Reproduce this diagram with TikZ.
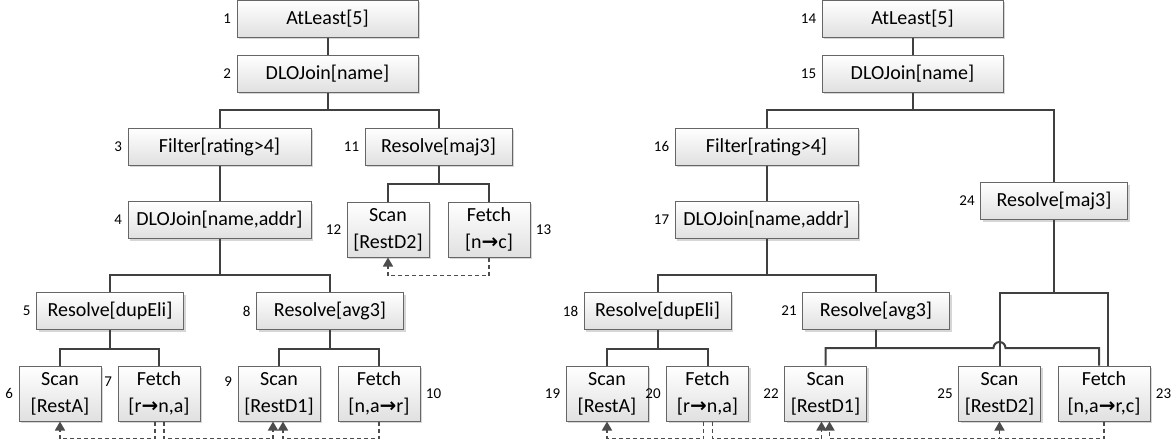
\documentclass[tikz,border=0pt]{standalone}
\usepackage{fontspec}
\setmainfont{Carlito}
\newfontfamily\arrfont{DejaVu Sans}
\usepackage{tikz}
\usetikzlibrary{arrows.meta,positioning,calc,shadows}
\newcommand{\toarr}{{\arrfont\bfseries\char"2192}}

\begin{document}
\begin{tikzpicture}[x=0.5pt, y=-0.5pt,
    op/.style={draw=black!60, line width=0.5pt, top color=white, bottom color=black!12, drop shadow={shadow xshift=1pt, shadow yshift=-1pt, fill=black!40, opacity=0.4}, minimum height=18.5pt, inner xsep=2pt, inner ysep=1pt, font=\fontsize{10}{13.5}\selectfont, align=center},
    wide/.style={op, minimum width=90.5pt},
    mid/.style={op, minimum width=91.5pt},
    res/.style={op, minimum width=73.5pt},
    leaf/.style={op, minimum width=41pt, minimum height=27.5pt},
    num/.style={font=\fontsize{7.5}{9}\selectfont, inner sep=1pt},
    tree/.style={draw=black!75, line width=1pt},
    dep/.style={draw=black!70, line width=0.8pt, dash pattern=on 2pt off 1.5pt, -{Triangle[length=4.5pt, width=5pt]}}]
    \useasboundingbox (0,0) rectangle (1175,445);

    \node[wide] (n1) at (327.5,18.5) {AtLeast[5]};
    \node[wide] (n2) at (327.5,73.5) {DLOJoin[name]};
    \node[mid] (n3) at (219.5,146.5) {Filter[rating>4]};
    \node[res] (n11) at (438.5,146.5) {Resolve[maj3]};
    \node[mid] (n4) at (219.5,220) {DLOJoin[name,addr]};
    \node[leaf] (n12) at (388,229.5) {Scan\\{[RestD2]}};
    \node[leaf] (n13) at (489,229.5) {Fetch\\{[n\toarr c]}};
    \node[res] (n5) at (110,311) {Resolve[dupEli]};
    \node[res] (n8) at (330,311) {Resolve[avg3]};
    \node[leaf] (n6) at (60,393.5) {Scan\\{[RestA]}};
    \node[leaf] (n7) at (159,393.5) {Fetch\\{[r\toarr n,a]}};
    \node[leaf] (n9) at (279,393.5) {Scan\\{[RestD1]}};
    \node[leaf] (n10) at (379,393.5) {Fetch\\{[n,a\toarr r]}};

    \node[wide] (n14) at (912.5,18.5) {AtLeast[5]};
    \node[wide] (n15) at (912.5,73.5) {DLOJoin[name]};
    \node[mid] (n16) at (766.5,146.5) {Filter[rating>4]};
    \node[res] (n24) at (1054,201) {Resolve[maj3]};
    \node[mid] (n17) at (766.5,220) {DLOJoin[name,addr]};
    \node[res] (n18) at (657.5,311) {Resolve[dupEli]};
    \node[res] (n21) at (876,311) {Resolve[avg3]};
    \node[leaf] (n19) at (607,393.5) {Scan\\{[RestA]}};
    \node[leaf] (n20) at (707.5,393.5) {Fetch\\{[r\toarr n,a]}};
    \node[leaf] (n22) at (825.5,393.5) {Scan\\{[RestD1]}};
    \node[leaf] (n25) at (999.5,393.5) {Scan\\{[RestD2]}};
    \node[leaf, minimum width=46pt] (n23) at (1104,393.5) {Fetch\\{[n,a\toarr r,c]}};

    \node[num, left=1.5pt of n1] (l1) {1};
    \node[num, left=1.5pt of n2] (l2) {2};
    \node[num, left=1.5pt of n3] (l3) {3};
    \node[num, left=1.5pt of n4] (l4) {4};
    \node[num, left=1.5pt of n5] (l5) {5};
    \node[num, left=1.5pt of n6] (l6) {6};
    \node[num, left=1.5pt of n7, yshift=6pt] (l7) {7};
    \node[num, left=1.5pt of n8] (l8) {8};
    \node[num, left=1.5pt of n9, yshift=6pt] (l9) {9};
    \node[num, right=1.5pt of n10] (l10) {10};
    \node[num, left=1.5pt of n11] (l11) {11};
    \node[num, left=1.5pt of n12] (l12) {12};
    \node[num, right=1.5pt of n13] (l13) {13};
    \node[num, left=1.5pt of n14] (l14) {14};
    \node[num, left=1.5pt of n15] (l15) {15};
    \node[num, left=1.5pt of n16] (l16) {16};
    \node[num, left=1.5pt of n17] (l17) {17};
    \node[num, left=1.5pt of n18] (l18) {18};
    \node[num, left=1.5pt of n19] (l19) {19};
    \node[num, left=1.5pt of n20] (l20) {20};
    \node[num, left=1.5pt of n21] (l21) {21};
    \node[num, left=1.5pt of n22] (l22) {22};
    \node[num, right=1.5pt of n23] (l23) {23};
    \node[num, left=1.5pt of n24] (l24) {24};
    \node[num, left=1.5pt of n25] (l25) {25};

    \draw[tree] (n1) -- (n2);
    \draw[tree] (n2.south) -- ++(0,17) coordinate (j2);
    \draw[tree] (n3.north) |- (j2) -| (n11.north);
    \draw[tree] (n3) -- (n4);
    \draw[tree] (n11.south) -- ++(0,18) coordinate (j11);
    \draw[tree] (n12.north) |- (j11) -| (n13.north);
    \draw[tree] (n4.south) -- ++(0,36) coordinate (j4);
    \draw[tree] (n5.north) |- (j4) -| (n8.north);
    \draw[tree] (n5.south) -- ++(0,19) coordinate (j5);
    \draw[tree] (n6.north) |- (j5) -| (n7.north);
    \draw[tree] (n8.south) -- ++(0,19) coordinate (j8);
    \draw[tree] (n9.north) |- (j8) -| (n10.north);

    \draw[tree] (n14) -- (n15);
    \draw[tree] (n15.south) -- ++(0,17) coordinate (j15);
    \draw[tree] (n16.north) |- (j15) -| (n24.north);
    \draw[tree] (n16) -- (n17);
    \draw[tree] (n17.south) -- ++(0,36) coordinate (j17);
    \draw[tree] (n18.north) |- (j17) -| (n21.north);
    \draw[tree] (n18.south) -- ++(0,19) coordinate (j18);
    \draw[tree] (n19.north) |- (j18) -| (n20.north);
    \draw[tree] (n24.south) -- ++(0,73) coordinate (j24);
    \draw[tree] (n25.north) |- (j24) -| ([xshift=2pt]n23.north);
    \draw[tree] (n21.south) -- ++(0,18) coordinate (j21);
    \draw[tree] (n22.north) |- (j21) -- ($(j21 -| n25)+(-3pt,0)$) arc[start angle=180, end angle=0, radius=3pt] -| ([xshift=-2.5pt]n23.north);

    \draw[dep] (n13.south) -- ++(0,18) -| (n12.south);
    \draw[dep] ([xshift=-2pt]n7.south) -- ++(0,17) -| (n6.south);
    \draw[dep] ([xshift=2.5pt]n7.south) -- ++(0,17) -| ([xshift=-3pt]n9.south);
    \draw[dep] (n10.south) -- ++(0,17) -| ([xshift=2pt]n9.south);
    \draw[dep] ([xshift=-2pt]n20.south) -- ++(0,17) -| (n19.south);
    \draw[dep] ([xshift=2.5pt]n20.south) -- ++(0,17) -| ([xshift=-2pt]n22.south);
    \draw[dep] (n23.south) -- ++(0,17) -| ([xshift=2pt]n22.south);
    \draw[dep] (n23.south) -- ++(0,17) -| (n25.south);
\end{tikzpicture}
\end{document}
